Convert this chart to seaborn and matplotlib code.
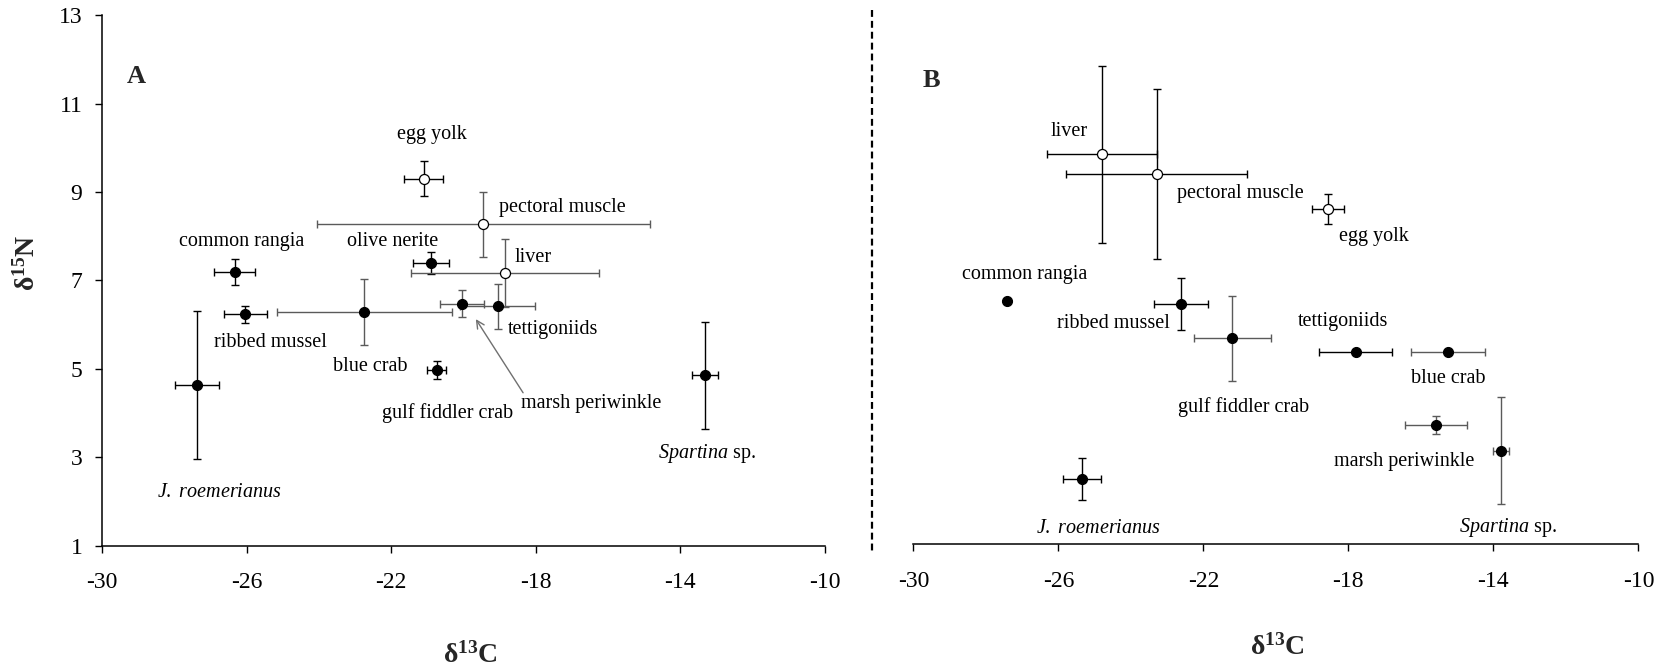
import numpy as np
import pandas as pd
import matplotlib
matplotlib.use("Agg")
import matplotlib.pyplot as plt
from matplotlib.lines import Line2D
import seaborn as sns

# ---------------- data ----------------
# Panel A
a_names = ["common rangia", "ribbed mussel", "J. roemerianus", "blue crab", "egg yolk",
           "pectoral muscle", "olive nerite", "liver", "marsh periwinkle", "tettigoniids",
           "gulf fiddler crab", "Spartina sp."]
a_c13 = [-26.33, -26.03, -27.37, -22.74, -21.10, -19.45, -20.90, -18.86, -20.04, -19.05, -20.74, -13.33]
a_n15 = [7.19, 6.24, 4.64, 6.29, 9.30, 8.27, 7.39, 7.16, 6.48, 6.42, 4.98, 4.86]
a_c13_sd = [0.57, 0.60, 0.62, 2.42, 0.54, 4.60, 0.51, 2.60, 0.61, 1.04, 0.27, 0.36]
a_n15_sd = [0.29, 0.19, 1.68, 0.74, 0.39, 0.73, 0.25, 0.77, 0.30, 0.51, 0.20, 1.21]
a_open = ["egg yolk", "pectoral muscle", "liver"]

# Panel B
b_names = ["liver", "pectoral muscle", "egg yolk", "common rangia", "ribbed mussel",
           "gulf fiddler crab", "tettigoniids", "blue crab", "marsh periwinkle",
           "Spartina sp.", "J. roemerianus"]
b_c13 = [-24.80, -23.29, -18.57, -27.42, -22.62, -21.20, -17.80, -15.24, -15.59, -13.79, -25.34]
b_n15 = [9.81, 9.37, 8.57, 6.50, 6.43, 5.66, 5.35, 5.35, 3.70, 3.12, 2.48]
b_c13_sd = [1.52, 2.50, 0.44, 0.0, 0.75, 1.06, 1.00, 1.02, 0.86, 0.21, 0.52]
b_n15_sd = [2.00, 1.92, 0.34, 0.0, 0.58, 0.96, 0.05, 0.05, 0.21, 1.20, 0.47]
b_open = ["liver", "pectoral muscle", "egg yolk"]

x_ticks = [-30, -26, -22, -18, -14, -10]
y_ticks = [1, 3, 5, 7, 9, 11, 13]

# ---------------- styles ----------------
sns.set_theme(style="ticks")
plt.rcParams["font.family"] = ["Liberation Serif", "DejaVu Serif"]
plt.rcParams["mathtext.fontset"] = "custom"
plt.rcParams["mathtext.rm"] = "Liberation Serif"
plt.rcParams["mathtext.it"] = "Liberation Serif:italic"
plt.rcParams["mathtext.bf"] = "Liberation Serif:bold"

GRAY = "#5a5a5a"
err_color_a = {"blue crab": GRAY, "pectoral muscle": GRAY, "liver": GRAY,
               "marsh periwinkle": GRAY, "tettigoniids": GRAY}
err_color_b = {"gulf fiddler crab": GRAY, "blue crab": GRAY, "marsh periwinkle": GRAY,
               "Spartina sp.": GRAY}

# label positions (data coords) for each panel
a_label_pos = {"egg yolk": (-20.88, 10.31), "pectoral muscle": (-17.27, 8.64),
               "common rangia": (-26.13, 7.87), "olive nerite": (-21.96, 7.87),
               "liver": (-18.07, 7.53), "tettigoniids": (-17.51, 5.90),
               "ribbed mussel": (-25.33, 5.59), "blue crab": (-22.58, 5.05),
               "gulf fiddler crab": (-20.43, 4.00), "marsh periwinkle": (-16.46, 4.23),
               "J. roemerianus": (-26.74, 2.22), "Spartina sp.": (-13.26, 3.10)}
b_label_pos = {"liver": (-25.70, 10.32), "pectoral muscle": (-20.97, 8.93),
               "egg yolk": (-17.30, 7.95), "common rangia": (-26.92, 7.09),
               "ribbed mussel": (-24.49, 5.98), "gulf fiddler crab": (-20.90, 4.11),
               "tettigoniids": (-18.14, 6.03), "blue crab": (-15.25, 4.75),
               "marsh periwinkle": (-16.46, 2.88), "J. roemerianus": (-24.89, 1.36),
               "Spartina sp.": (-13.60, 1.375)}

fig = plt.figure(figsize=(16.63, 6.70), dpi=100)
axA = fig.add_axes([0.0613, 0.1851, 0.4348, 0.7925])
axB = fig.add_axes([0.5492, 0.1876, 0.4360, 0.7925])


def label_text(name):
    if name == "J. roemerianus":
        return r"$\mathit{J.\ roemerianus}$"
    if name == "Spartina sp.":
        return r"$\mathit{Spartina}$ sp."
    return name


def draw_panel(ax, names, xs, ys, xsd, ysd, open_set, err_colors, label_pos, letter, letter_pos):
    df = pd.DataFrame({"name": names, "c13": xs, "n15": ys, "c13_sd": xsd, "n15_sd": ysd})
    df["kind"] = np.where(df["name"].isin(open_set), "open", "filled")
    for _, r in df.iterrows():
        col = err_colors.get(r["name"], "black")
        if r["c13_sd"] > 0 or r["n15_sd"] > 0:
            ax.errorbar(r["c13"], r["n15"], xerr=r["c13_sd"], yerr=r["n15_sd"], fmt="none",
                        ecolor=col, elinewidth=1.0, capsize=2.6, capthick=1.0, zorder=2)
    filled = df[df["kind"] == "filled"]
    opened = df[df["kind"] == "open"]
    sns.scatterplot(data=filled, x="c13", y="n15", ax=ax, color="black", s=52,
                    edgecolor="black", linewidth=0.8, zorder=3, legend=False)
    sns.scatterplot(data=opened, x="c13", y="n15", ax=ax, color="white", s=52,
                    edgecolor="black", linewidth=0.9, zorder=3, legend=False)
    for n in names:
        px, py = label_pos[n]
        ax.text(px, py, label_text(n), ha="center", va="center", fontsize=14.5, color="black")
    ax.text(letter_pos[0], letter_pos[1], letter, ha="center", va="center",
            fontsize=19, fontweight="bold")
    ax.set_xlim(-30, -10)
    ax.set_ylim(1, 13)
    ax.set_xticks(x_ticks)
    ax.set_xticklabels([str(t) for t in x_ticks])
    ax.set_xlabel("")
    ax.set_ylabel("")
    ax.tick_params(axis="x", direction="out", length=5, width=1.0, pad=14, labelsize=17,
                   colors="black")
    for s in ax.spines.values():
        s.set_linewidth(1.1)
        s.set_color("black")
    ax.spines["top"].set_visible(False)
    ax.spines["right"].set_visible(False)


draw_panel(axA, a_names, a_c13, a_n15, a_c13_sd, a_n15_sd, a_open, err_color_a,
           a_label_pos, "A", (-29.06, 11.62))
draw_panel(axB, b_names, b_c13, b_n15, b_c13_sd, b_n15_sd, b_open, err_color_b,
           b_label_pos, "B", (-29.49, 11.49))

axA.set_yticks(y_ticks)
axA.set_yticklabels([str(t) for t in y_ticks])
axA.tick_params(axis="y", direction="out", length=5, width=1.0, pad=9, labelsize=17,
                colors="black")
axB.spines["left"].set_visible(False)
axB.set_yticks([])

# arrow for marsh periwinkle in A
axA.annotate("", xy=(-19.70, 6.18), xytext=(-18.31, 4.41),
             arrowprops=dict(arrowstyle="->", color="#707070", lw=1.0,
                             mutation_scale=14))

# axis labels
fig.text(470 / 1663, 1 - 655 / 670, r"δ$^{\mathbf{13}}$C", ha="center", va="center",
         fontsize=20, fontweight="bold")
fig.text(1277 / 1663, 1 - 647 / 670, r"δ$^{\mathbf{13}}$C", ha="center", va="center",
         fontsize=20, fontweight="bold")
fig.text(27 / 1663, 1 - 263 / 670, r"δ$^{\mathbf{15}}$N", ha="center", va="center",
         fontsize=20, fontweight="bold", rotation=90)

# dashed separator
fig.add_artist(Line2D([871.7 / 1663, 871.7 / 1663], [1 - 10 / 670, 1 - 552 / 670],
                      transform=fig.transFigure, color="black", lw=1.6,
                      linestyle=(0, (3.1, 1.8))))

fig.savefig("out.png", dpi=100, facecolor="white")
